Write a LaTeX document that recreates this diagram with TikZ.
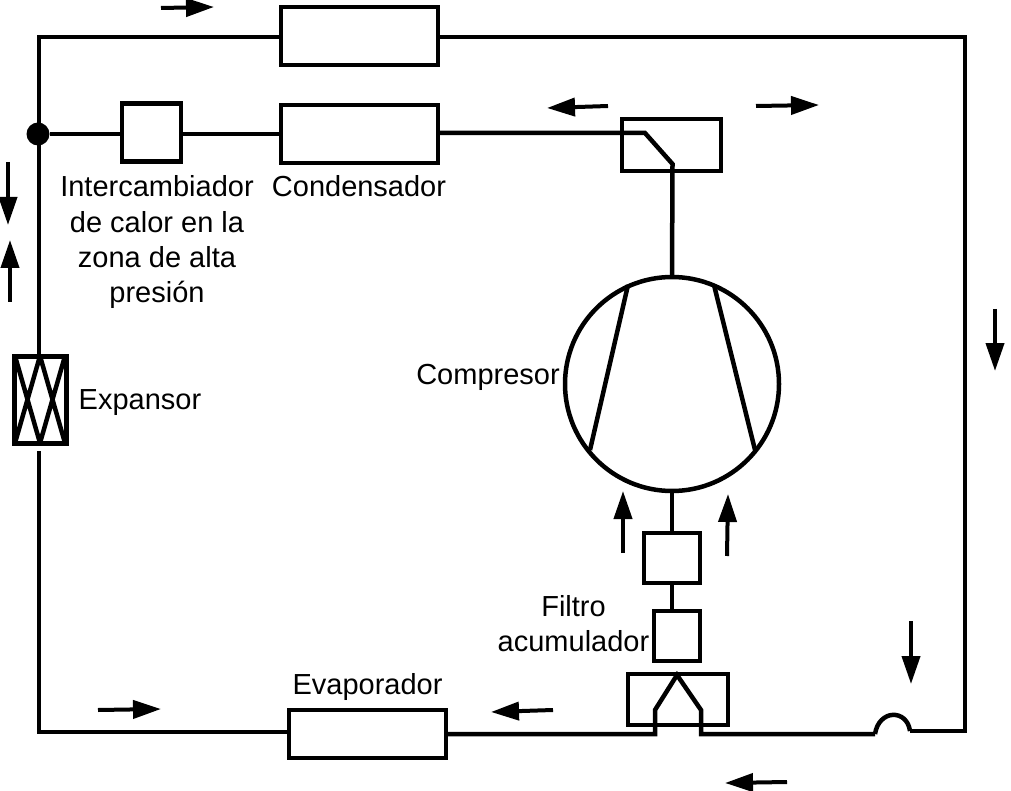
\documentclass[tikz,border=0pt]{standalone}
\usepackage{fontspec}
\setmainfont{Liberation Sans}
\usetikzlibrary{arrows.meta}
\tikzset{
  wire/.style={line width=4.5pt,line join=miter},
  box/.style={draw,line width=4.5pt,outer sep=0pt,inner sep=0pt,minimum width=#1},
  box/.default=50pt,
  flow/.style={line width=4pt,-{Triangle[length=28pt,width=18pt]},shorten >=0pt},
  lbl/.style={font=\fontsize{29}{35}\selectfont,inner sep=0pt,align=center,anchor=base}
}
\begin{document}
\begin{tikzpicture}[x=1pt,y=-1pt]
\useasboundingbox (0,0) rectangle (1011,791);
% boxes
\node[box=157pt,minimum height=58pt] (recv) at (359.5,36) {};
\node[box=157pt,minimum height=58pt] (cond) at (359.5,134) {};
\node[box=59pt,minimum height=58pt] (hx) at (151.5,132.5) {};
\node[box=99pt,minimum height=52pt] (sw) at (671.5,145) {};
\node[box=157pt,minimum height=48pt] (evap) at (367.5,734) {};
\node[box=56pt,minimum height=50pt] (f1) at (672,558) {};
\node[box=46pt,minimum height=50pt] (f2) at (677,636) {};
\node[box=100pt,minimum height=51pt] (rev) at (678,699.5) {};
\node[box=52pt,minimum height=87pt,line width=5pt] (exp) at (40,399.5) {};
\node[draw,circle,line width=4.5pt,outer sep=0pt,inner sep=0pt,minimum size=214pt] (comp) at (672,384) {};
\node[circle,fill=black,inner sep=0pt,minimum size=23pt] (dot) at (38,134) {};
% coordinates
\coordinate (tr) at (965,37);
\coordinate (tl) at (39,37);
\coordinate (br) at (965,731);
\coordinate (bl) at (39,732);
\coordinate (swb) at (645,133);
\coordinate (swc) at (672.5,164);
\coordinate (low) at (39,451);
\coordinate (a1) at (655,734);
\coordinate (a2) at (655,710);
\coordinate (a3) at (677,675);
\coordinate (a4) at (701,710);
\coordinate (a5) at (701,734);
\coordinate (h1) at (875,734);
\coordinate (h2) at (910,731);
% wires
\draw[wire] (recv.east |- tr) -- (tr) -- (br) -- (h2);
\draw[wire] (h2) .. controls (907,709) and (879,709) .. (h1);
\draw[wire] (h1) -- (a5) -- (a4) -- (a3) -- (a2) -- (a1) -- (evap.east |- a1);
\draw[wire] (evap.west |- bl) -- (bl) -- (low);
\draw[wire] (39,356) -- (tl) -- (recv.west |- tl);
\draw[wire] (dot) -- (hx.west |- dot);
\draw[wire] (hx.east |- cond) -- (cond.west);
\draw[wire] (cond.east |- swb) -- (swb) -- (swc) -- (comp.north);
\draw[wire] (comp.south) -- (f1.north);
\draw[wire] (f1.south) -- (f1.south |- f2.north);
% compressor blades
\coordinate (c1) at (628,285);
\coordinate (c2) at (590,450);
\coordinate (c3) at (714,285);
\coordinate (c4) at (755,450);
\draw[wire] (c1) -- (c2);
\draw[wire] (c3) -- (c4);
% expansion valve
\draw[wire] (exp.north) -- (15,443) (exp.north) -- (65,443) (15,356) -- (exp.south) (65,356) -- (exp.south);
% flow arrows
\coordinate (p1) at (161,8); \coordinate (q1) at (214,7);
\coordinate (p2) at (608,106); \coordinate (q2) at (547,108);
\coordinate (p3) at (756,106); \coordinate (q3) at (819,105);
\coordinate (p4) at (8,162); \coordinate (q4) at (8,225);
\coordinate (p5) at (10,302); \coordinate (q5) at (10,240);
\coordinate (p6) at (995,309); \coordinate (q6) at (995,371);
\coordinate (p7) at (623,553); \coordinate (q7) at (623,491);
\coordinate (p8) at (727,556); \coordinate (q8) at (728,494);
\coordinate (p9) at (911,621); \coordinate (q9) at (911,684);
\coordinate (p10) at (553,710); \coordinate (q10) at (491,712);
\coordinate (p11) at (787,782); \coordinate (q11) at (725,783);
\coordinate (p12) at (98,710); \coordinate (q12) at (161,709);
\foreach \i in {1,...,12} \draw[flow] (p\i) -- (q\i);
% labels
\node[lbl] (t1) at (157,302) {Intercambiador\\de calor en la\\zona de alta\\presión};
\node[lbl] (t2) at (359,197) {Condensador};
\node[lbl] (t3) at (488,384) {Compresor};
\node[lbl] (t4) at (140,409) {Expansor};
\node[lbl] (t5) at (367.5,694) {Evaporador};
\node[lbl] (t6) at (573.5,651) {Filtro\\acumulador};
\end{tikzpicture}
\end{document}
